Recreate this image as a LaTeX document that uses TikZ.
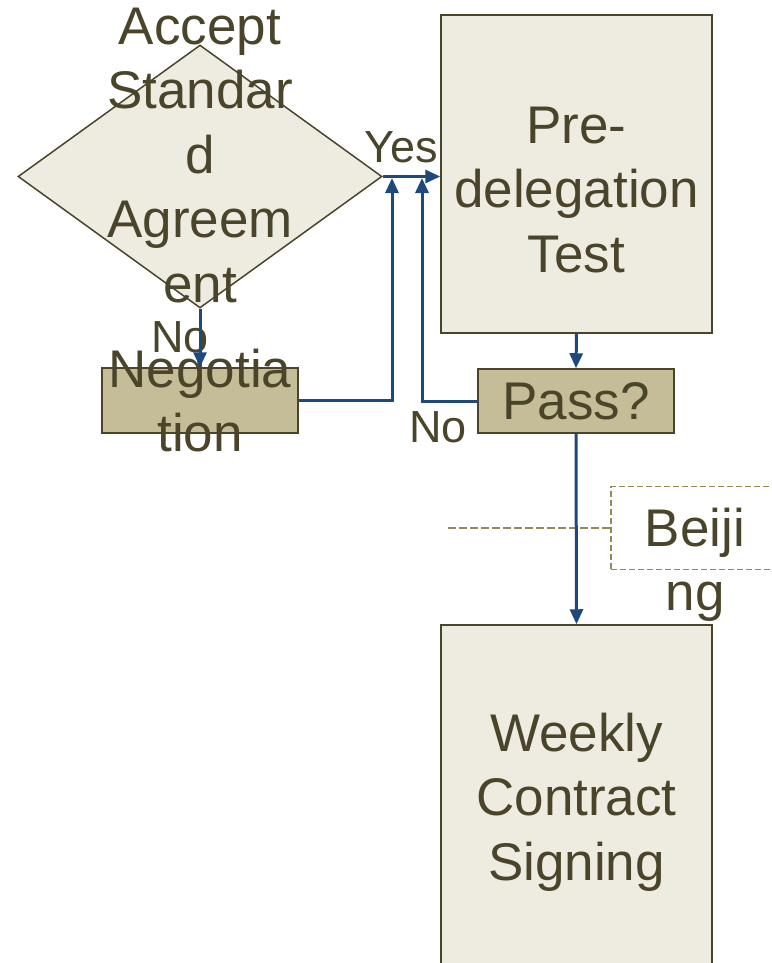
\documentclass[tikz,border=0pt]{standalone}
\usepackage{fontspec}
\setmainfont{Liberation Sans}
\usetikzlibrary{shapes.geometric, arrows.meta}
\definecolor{boxfill}{HTML}{EEECE1}
\definecolor{darkfill}{HTML}{C4BD97}
\definecolor{boxline}{HTML}{4A452A}
\definecolor{flowblue}{HTML}{1F497D}
\definecolor{dashcol}{HTML}{948A54}
\newcommand{\bigfont}{\fontsize{53}{64.5}\selectfont}
\newcommand{\tagfont}{\fontsize{45}{54}\selectfont}
\tikzset{%
    lightbox/.style={rectangle, fill=boxfill, draw=boxline, line width=1.5pt,
    	inner sep=0pt, text=boxline, font=\bigfont, align=center},
    darkbox/.style={lightbox, fill=darkfill},
    decision/.style={diamond, fill=boxfill, draw=boxline, line width=1.5pt,
    	inner sep=0pt, minimum width=364pt, minimum height=263pt},
    boxtext/.style={text=boxline, font=\bigfont, align=center},
    tagtext/.style={text=boxline, font=\tagfont, anchor=base, inner sep=0pt},
    callout/.style={rectangle, draw=dashcol, dash pattern=on 6pt off 3pt,
    	line width=1.8pt, minimum width=168pt, minimum height=83pt},
    flowline/.style={draw=flowblue, line width=3pt,
    	-{Triangle[length=15pt, width=13pt]}},
    dashline/.style={draw=dashcol, dash pattern=on 8pt off 3pt, line width=2.2pt}
}

\begin{document}
\begin{tikzpicture}[x=1pt, y=-1pt]
	\useasboundingbox (0,0) rectangle (771,963);
	\node [decision, label={[boxtext, yshift=21pt]center:{Accept\\Standar\\d\\Agreem\\ent}}]
		(accept) at (200,176.5) {};
	\node [darkbox, minimum width=196pt, minimum height=65pt,
		label={[boxtext]center:{Negotia\\tion}}] (nego) at (200,400.5) {};
	\node [lightbox, minimum width=271pt, minimum height=318pt,
		label={[boxtext, yshift=-16pt]center:{Pre-\\delegation\\Test}}]
		(pretest) at (576.5,174) {};
	\node [darkbox, minimum width=196pt, minimum height=64pt]
		(pass) at (576,401) {Pass?};
	\node [lightbox, minimum width=271pt, minimum height=354pt]
		(weekly) at (576.5,802) {Weekly\\Contract\\Signing};
	\node [callout, label={[boxtext, yshift=-37pt]center:{Beiji\\ng}}]
		(beijing) at (695,528) {};
	\coordinate (negoJoin) at (392,178);
	\coordinate (passJoin) at (422,178);
	\coordinate (dashEnd) at (448,528);
	\node [tagtext] (yes) at (401,162) {Yes};
	\node [tagtext] (noA) at (180,352) {No};
	\node [tagtext] (noB) at (438,442) {No};
	\draw [dashline] (beijing.west) -- (dashEnd);
	\draw [flowline] (accept.east) -- (accept.east -| pretest.west);
	\draw [flowline] (accept.south) -- (nego.north);
	\draw [flowline] (nego.east) -| (negoJoin);
	\draw [flowline] (pass.west) -| (passJoin);
	\draw [flowline] (pretest.south) -- (pass.north);
	\draw [flowline] (pass.south) -- (weekly.north);
\end{tikzpicture}
\end{document}
